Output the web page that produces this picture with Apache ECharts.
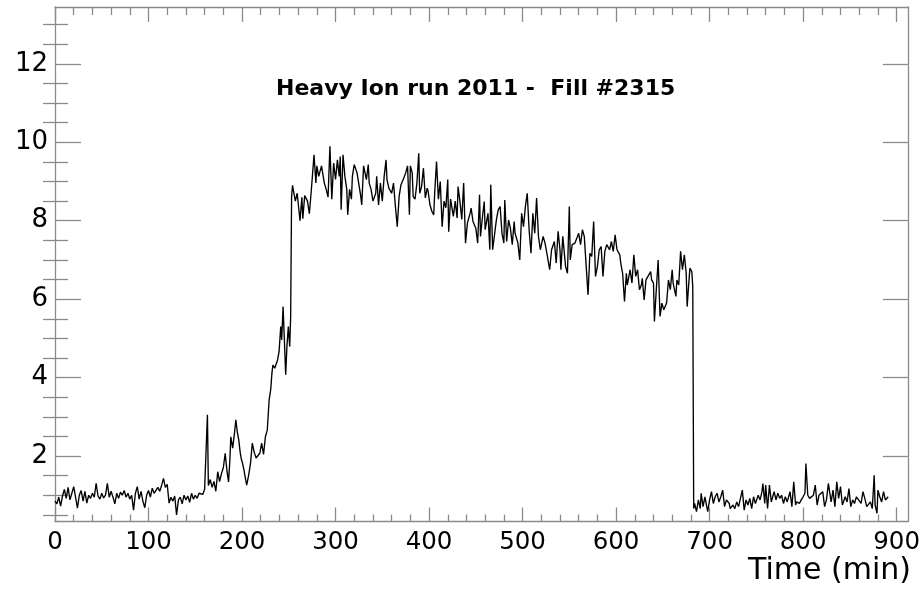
<!DOCTYPE html>
<html>
<head>
<meta charset="utf-8">
<title>Heavy Ion run 2011 - Fill #2315</title>
<script src="https://cdn.jsdelivr.net/npm/echarts@6/dist/echarts.min.js"></script>
<style>
  html, body { margin: 0; padding: 0; background: #fff; }
  #chart { width: 923px; height: 595px; }
</style>
</head>
<body>
<div id="chart"></div>
<script>
// Rate vs. time during fill #2315, as [minute, value] samples.
const baselineBefore = [
  [0,0.85],[2,0.78],[4,0.95],[6,0.72],[8,0.98],[10,1.15],[12,0.92],[14,1.2],[16,0.88],[18,1.05],
  [20,1.22],[22,0.95],[24,0.67],[26,1.0],[28,1.12],[30,0.85],[32,1.1],[34,0.8],[36,1.0],[38,0.92],
  [40,1.05],[42,0.95],[44,1.3],[46,0.98],[48,0.9],[50,1.05],[52,0.93],[54,1.0],[56,1.3],[58,0.95],
  [60,1.1],[62,0.95],[64,0.78],[66,1.05],[68,0.92],[70,1.08],[72,1.0],[74,1.12],[76,0.95],[78,1.05],
  [80,0.9],[82,1.0],[84,0.62],[86,1.05],[88,1.22],[90,0.9],[92,1.1],[94,0.85],[96,0.68],[98,1.0],
  [100,1.12],[102,0.95],[104,1.18],[106,1.05],[108,1.0],[110,1.2],[112,1.1],[114,1.25],[116,1.43],[118,1.2],
  [120,1.28],[122,0.8],[124,0.95],[126,0.85],[128,0.98],[130,0.5],[132,0.88],[134,0.95],[136,0.78],[138,1.0],
  [140,0.88],[142,0.98],[144,0.82],[146,1.05],[148,0.9],[150,1.0],[152,0.92],[154,1.05],[156,1.1],[158,1.02],
  [160,1.15]
];

const rampUp = [
  [162,1.1],[163,3.05],[164,1.25],[166,1.4],[168,1.2],[170,1.35],[172,1.1],[174,1.6],[176,1.35],[178,1.55],
  [180,1.7],[182,2.07],[184,1.6],[185.6,1.34],[187,1.9],[188,2.49],[190,2.2],[192,2.6],[193.4,2.92],[195,2.6],
  [196.5,2.41],[198,2.1],[199,1.95],[200.5,1.82],[202,1.65],[203.5,1.45],[205,1.26],[207,1.5],[209,1.8],[211,2.33],
  [213,2.1],[215,1.95],[216.5,1.98],[219,2.07],[221,2.33],[223,2.04],[225,2.49],[227,2.66],[229,3.43],[230.7,3.7],
  [232,4.12],[233,4.32],[235,4.24],[236.5,4.2],[238,4.45],[239.6,4.66],[241.4,5.3],[242.4,4.96],[243.9,5.81],[245,5.13],
  [246.7,4.07],[248,4.79],[249.5,5.3],[251,4.79],[252,5.55]
];

const stableBeams = [
  [253,8.62],[254,8.9],[257,8.5],[259,8.7],[262,8.0],[264,8.6],[265,8.05],[267,8.64],[270,8.5],[272,8.18],
  [274,8.75],[277,9.68],[279,8.96],[280,9.4],[282,9.13],[285,9.4],[288,8.96],[290,8.8],[292,8.6],[294,9.9],
  [295,9.22],[296,8.55],[298,9.47],[300,9.05],[302,9.55],[304,9.13],[305,9.64],[306,8.28],[308,9.68],[310,9.13],
  [312,8.8],[313,8.15],[315,8.8],[317,8.55],[318,9.13],[320,9.43],[323,9.22],[325,8.92],[327,8.62],[328,8.4],
  [330,9.4],[333,9.05],[335,9.43],[336,8.96],[338,8.8],[340,8.5],[343,8.7],[344,9.13],[346,8.4],[348,8.96],
  [350,8.5],[352,9.13],[354,9.55],[355,9.05],[357,8.83],[360,8.7],[362,8.96],[364,8.37],[366,7.85],[368,8.62],
  [370,8.92],[373,9.09],[375,9.22],[377,9.4],[379,8.15],[380,9.4],[382,9.22],[383,8.62],[385,8.55],[387,8.96],
  [389,9.72],[390,8.7],[392,8.87],[394,9.34],[396,8.58],[398,8.83],[399,8.75],[401,8.4],[403,8.24],[405,8.15],
  [406,8.7],[408,9.51],[410,8.55],[412,9.0],[414,7.85],[416,8.5],[418,8.33],[420,9.05],[421,7.72],[423,8.55],
  [426,8.11],[428,8.5],[430,8.07],[431,8.87],[433,8.5],[435,8.03],[437,8.96],[439,7.43],[441,7.94],[444,8.2],
  [445,8.32],[447,7.98],[450,7.81],[452,7.43],[454,8.66],[455,7.6],[457,8.07],[459,8.49],[460,7.77],[463,8.19],
  [465,7.26],[466,8.92],[468,7.26],[470,7.26],[472,8.02],[474,8.28],[476,8.36],[478,7.68],[480,7.43],[481,8.53],
  [483,7.47],[485,8.02],[487,7.81],[489,7.39],[491,7.98],[492,7.68],[495,7.43],[497,7.0],[499,8.19],[501,7.85],
  [503,8.36],[505,8.7],[507,7.77],[509,7.17],[511,8.19],[513,7.68],[515,8.58],[517,7.6],[519,7.26],[522,7.6],
  [524,7.43],[526,7.17],[529,6.75],[531,7.26],[534,7.47],[536,6.92],[538,7.73],[540,7.26],[541,6.75],[543,7.6],
  [546,6.83],[548,6.66],[550,8.36],[551,7.0],[553,7.39],[556,7.43],[558,7.55],[560,7.68],[562,7.39],[564,7.77],
  [566,7.6],[568,7.55],[570,6.11],[572,7.17],[574,7.09],[576,7.98],[578,6.58],[580,6.83],[582,7.26],[584,7.34],
  [586,6.58],[588,7.22],[590,7.39],[593,7.26],[595,7.47],[597,7.22],[599,7.64],[601,7.26],[604,7.13],[605,6.92],
  [607,6.66],[609,5.94],[611,6.66],[612,6.36],[615,6.75],[617,6.41],[619,7.13],[621,6.58],[623,6.75],[625,6.24],
  [627,6.36],[628,6.53],[630,5.98],[632,6.49],[634,6.53],[637,6.7],[638,6.49],[640,6.41],[641,5.43],[643,6.24],
  [645,7.0],[647,5.56],[649,5.9],[651,5.73],[654,5.9],[656,6.49],[658,6.24],[660,6.75],[661,6.41],[664,6.07],
  [665,6.49],[667,6.36],[669,7.22],[671,6.75],[673,7.13],[675,6.66],[676,5.81],[678,6.49],[679,6.79],[681,6.7],
  [682,6.32]
];

const baselineAfter = [
  [683,0.66],[684,0.79],[686,0.58],[688,0.88],[690,0.66],[691,1.05],[693,0.71],[695,0.96],[698,0.58],[700,0.88],
  [702,1.09],[704,0.79],[706,0.96],[708,1.05],[710,0.83],[712,0.96],[714,1.13],[716,0.71],[718,0.88],[721,0.79],
  [722,0.66],[725,0.75],[727,0.66],[729,0.83],[731,0.71],[733,0.92],[735,1.13],[737,0.62],[739,0.88],[741,0.75],
  [743,0.92],[745,0.66],[747,0.96],[749,0.79],[752,1.0],[754,0.88],[756,1.09],[757,1.3],[759,0.79],[760,1.26],
  [762,0.66],[764,1.26],[766,0.83],[769,1.09],[771,0.88],[773,1.05],[775,0.92],[777,1.0],[779,0.79],[781,0.96],
  [783,0.83],[786,1.09],[788,0.71],[790,1.34],[792,0.75],[793,0.83],[796,0.79],[798,0.88],[800,0.96],[802,1.05],
  [803,1.81],[805,1.0],[807,0.92],[809,0.88],[811,1.0],[813,1.26],[815,0.75],[817,1.0],[819,0.96],[821,1.09],
  [823,0.71],[825,0.88],[827,1.3],[830,0.83],[832,1.13],[834,0.71],[836,1.34],[838,0.92],[840,1.22],[842,0.75],
  [845,0.96],[847,0.83],[849,1.17],[851,0.71],[853,0.88],[855,0.79],[857,0.96],[859,0.92],[862,0.79],[864,1.09],
  [866,0.92],[868,0.71],[870,0.75],[872,0.83],[874,0.66],[876,1.51],[877,0.75],[879,0.54],[880,1.13],[882,0.96],
  [884,0.83],[886,1.09],[888,0.88],[891,0.96]
];

// Axis ranges and tick positions
const timeRange = [0, 912];
const rateRange = [0.33, 13.45];
const timeMajorTicks = [0, 100, 200, 300, 400, 500, 600, 700, 800, 900];
const rateMajorTicks = [2, 4, 6, 8, 10, 12];

const timeMinorTicks = [];
for (let t = 20; t < timeRange[1]; t += 20) {
  if (t % 100 !== 0) timeMinorTicks.push(t);
}
const rateMinorTicks = [];
for (let v = 0.5; v < rateRange[1]; v += 0.5) {
  if (v % 2 !== 0) rateMinorTicks.push(v);
}

const frameColor = '#8a8a8a';
const font = 'DejaVu Sans';

function tickAxis(opts) {
  return Object.assign({
    type: 'value',
    axisLine: { show: false, lineStyle: { color: frameColor, width: 1.3 } },
    axisTick: { show: true, inside: true, lineStyle: { color: frameColor, width: 1.3 } },
    axisLabel: { show: false },
    splitLine: { show: false },
    offset: 0
  }, opts);
}

const chart = echarts.init(document.getElementById('chart'), null, { renderer: 'canvas' });

chart.setOption({
  animation: false,
  backgroundColor: '#ffffff',
  grid: { left: 55, top: 7, width: 855, height: 514.5, containLabel: false },
  xAxis: [
    tickAxis({
      position: 'bottom', min: timeRange[0], max: timeRange[1],
      axisLine: { show: true, onZero: false, lineStyle: { color: frameColor, width: 1.3 } },
      axisTick: { show: true, inside: true, length: 14, customValues: timeMajorTicks,
        lineStyle: { color: frameColor, width: 1.3 } },
      axisLabel: { show: true, customValues: timeMajorTicks, margin: 9,
        fontFamily: font, fontSize: 24.5, color: '#000' }
    }),
    tickAxis({
      position: 'bottom', min: timeRange[0], max: timeRange[1],
      axisTick: { show: true, inside: true, length: 7, customValues: timeMinorTicks,
        lineStyle: { color: frameColor, width: 1.3 } }
    }),
    tickAxis({
      position: 'top', min: timeRange[0], max: timeRange[1],
      axisLine: { show: true, onZero: false, lineStyle: { color: frameColor, width: 1.3 } },
      axisTick: { show: true, inside: true, length: 15, customValues: timeMajorTicks,
        lineStyle: { color: frameColor, width: 1.3 } }
    }),
    tickAxis({
      position: 'top', min: timeRange[0], max: timeRange[1],
      axisTick: { show: true, inside: true, length: 8, customValues: timeMinorTicks,
        lineStyle: { color: frameColor, width: 1.3 } }
    })
  ],
  yAxis: [
    tickAxis({
      position: 'left', min: rateRange[0], max: rateRange[1],
      axisLine: { show: true, onZero: false, lineStyle: { color: frameColor, width: 1.3 } },
      axisTick: { show: true, inside: true, length: 26, customValues: rateMajorTicks,
        lineStyle: { color: frameColor, width: 1.3 } },
      axisLabel: { show: true, customValues: rateMajorTicks, margin: 7,
        fontFamily: font, fontSize: 26, color: '#000' }
    }),
    tickAxis({
      position: 'left', min: rateRange[0], max: rateRange[1],
      axisTick: { show: true, inside: true, length: 13, customValues: rateMinorTicks,
        lineStyle: { color: frameColor, width: 1.3 } }
    }),
    tickAxis({
      position: 'right', min: rateRange[0], max: rateRange[1],
      axisLine: { show: true, onZero: false, lineStyle: { color: frameColor, width: 1.3 } },
      axisTick: { show: true, inside: true, length: 25, customValues: rateMajorTicks,
        lineStyle: { color: frameColor, width: 1.3 } }
    }),
    tickAxis({
      position: 'right', min: rateRange[0], max: rateRange[1],
      axisTick: { show: true, inside: true, length: 12, customValues: rateMinorTicks,
        lineStyle: { color: frameColor, width: 1.3 } }
    })
  ],
  graphic: [
    {
      type: 'text', left: 478 - 202, top: 78,
      style: { text: 'Heavy Ion run 2011 -  Fill #2315', fontFamily: font, fontWeight: 'bold',
        fontSize: 22, fill: '#000' }
    },
    {
      type: 'text', right: 12, top: 556,
      style: { text: 'Time (min)', fontFamily: font, fontSize: 30, fill: '#000' }
    }
  ],
  series: [{
    type: 'line',
    xAxisIndex: 0,
    yAxisIndex: 0,
    data: baselineBefore.concat(rampUp, stableBeams, baselineAfter),
    showSymbol: false,
    symbol: 'none',
    smooth: false,
    clip: true,
    lineStyle: { color: '#000', width: 1.35 }
  }]
});
</script>
</body>
</html>
